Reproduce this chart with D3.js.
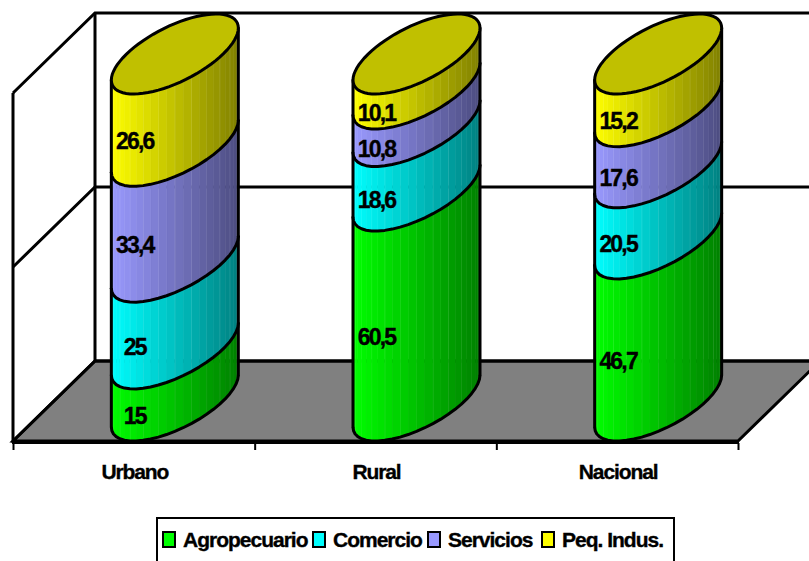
<!DOCTYPE html>
<html lang="en">
<head>
<meta charset="utf-8"/>
<title>Urbano Rural Nacional</title>
<script src="https://d3js.org/d3.v7.min.js"></script>
<style>
	html, body { margin: 0; background: #fff; overflow: hidden; }
	svg { display: block; }
	text { font-family: "Liberation Sans", Arial, sans-serif; font-weight: bold; fill: #000; stroke: #000; stroke-width: 0.35px; }
	.axis .domain { display: none; }
	.axis line { stroke: #000; stroke-width: 2px; }
</style>
</head>
<body>
<svg id="chart" width="809" height="561"></svg>
<script>
// values
var categories = ["Urbano", "Rural", "Nacional"];
var seriesNames = ["Agropecuario", "Comercio", "Servicios", "Peq. Indus."];
var agropecuario = [15, 60.5, 46.7];
var comercio = [25, 18.6, 20.5];
var servicios = [33.4, 10.8, 17.6];
var peqIndus = [26.6, 10.1, 15.2];
var wallTicks = [0, 50, 100];

var lightColors = ["#00ff00", "#00ffff", "#9999ff", "#ffff00"];
var darkColors = ["#008000", "#008080", "#4d4d80", "#808000"];
var topColor = "#c0c000";

var rows = [agropecuario, comercio, servicios, peqIndus];
var table = categories.map(function(c, i) {
	var d = { category: c };
	seriesNames.forEach(function(s, j) { d[s] = rows[j][i]; });
	return d;
});
var stacked = d3.stack().keys(seriesNames)(table);

var svg = d3.select("#chart");

// 3d box: the back wall is the front plane moved by depth
var depthX = 82, depthY = -80;
var x = d3.scaleBand().domain(categories).range([13, 738]);
var wallY = d3.scaleLinear().domain([0, 100]).range([361, 13]);
// y of the cylinder axis (center of the ellipses)
var y = d3.scaleLinear().domain([0, 100]).range([401, 54]);

var radiusX = 63.5, skew = 26, radiusY = 30.4;
var lineWidth = 3;

function ellipsePoint(cx, v, t) {
	return [cx + radiusX * Math.cos(t), y(v) - skew * Math.cos(t) + radiusY * Math.sin(t)];
}
function center(c) { return x(c) + x.bandwidth() / 2 + depthX / 2; }

var line = d3.line();

// floor
var x0 = x.range()[0], x1 = x.range()[1];
svg.append("path")
	.attr("d", line([[x0, wallY(0) - depthY], [x0 + depthX, wallY(0)], [x1 + depthX, wallY(0)], [x1, wallY(0) - depthY]]) + "Z")
	.attr("fill", "#808080")
	.attr("stroke", "#000")
	.attr("stroke-width", lineWidth);

// walls
var walls = svg.append("g").attr("fill", "none").attr("stroke", "#000").attr("stroke-width", lineWidth);
wallTicks.forEach(function(v) {
	walls.append("path").attr("d", line([[x0, wallY(v) - depthY], [x0 + depthX, wallY(v)], [x1 + depthX, wallY(v)]]));
});
walls.append("path").attr("d", line([[x0, wallY(100) - depthY], [x0, wallY(0) - depthY + 2]]));
walls.append("path").attr("d", line([[x0 + depthX, wallY(100)], [x0 + depthX, wallY(0)]]));

// x axis, ticks on the band edges
var edgeScale = d3.scaleLinear().domain([0, categories.length]).range(x.range());
var axis = svg.append("g")
	.attr("class", "axis")
	.attr("transform", "translate(0,443)")
	.call(d3.axisBottom(edgeScale).tickValues(d3.range(categories.length + 1)).tickSize(7).tickFormat(""));
axis.append("line").attr("x1", x0 - 1).attr("x2", x1 + 1).attr("y1", 0).attr("y2", 0);

svg.append("g").selectAll("text")
	.data(categories)
	.enter().append("text")
	.attr("x", function(d) { return x(d) + x.bandwidth() / 2 + 1; })
	.attr("y", 479)
	.attr("text-anchor", "middle")
	.attr("font-size", 21)
	.attr("letter-spacing", -1.1)
	.text(function(d) { return d; });

// cylinders
var steps = d3.range(0, 25).map(function(i) { return Math.PI * i / 24; });

stacked.forEach(function(layer, j) {
	var g = svg.append("g");
	var shade = d3.interpolateRgb(lightColors[j], darkColors[j]);
	layer.forEach(function(d) {
		var cx = center(d.data.category);
		// side facets, right to left
		steps.slice(1).forEach(function(t, k) {
			var t0 = steps[k];
			var c = shade(0.5 + 0.5 * Math.cos((t + t0) / 2));
			g.append("path")
				.attr("d", line([ellipsePoint(cx, d[0], t0), ellipsePoint(cx, d[0], t), ellipsePoint(cx, d[1], t), ellipsePoint(cx, d[1], t0)]) + "Z")
				.attr("fill", c)
				.attr("stroke", c)
				.attr("stroke-width", 0.6);
			if (k % 2) {
				g.append("path")
					.attr("d", line([ellipsePoint(cx, d[0], t), ellipsePoint(cx, d[1], t)]))
					.attr("stroke", "#fff")
					.attr("stroke-opacity", 0.22)
					.attr("stroke-width", 1);
			}
		});
		// outline of the part
		var outline = steps.map(function(t) { return ellipsePoint(cx, d[0], t); });
		g.append("path")
			.attr("d", line(outline))
			.attr("fill", "none")
			.attr("stroke", "#000")
			.attr("stroke-width", lineWidth)
			.attr("stroke-linejoin", "round");
		[0, Math.PI].forEach(function(t) {
			g.append("path")
				.attr("d", line([ellipsePoint(cx, d[0], t), ellipsePoint(cx, d[1], t)]))
				.attr("stroke", "#000")
				.attr("stroke-width", lineWidth)
				.attr("stroke-linecap", "round");
		});
	});
});

// top ellipses
var around = d3.range(0, 73).map(function(i) { return Math.PI * i / 36; });
svg.append("g").selectAll("path")
	.data(categories)
	.enter().append("path")
	.attr("d", function(c) {
		return line(around.map(function(t) { return ellipsePoint(center(c), 100, t); })) + "Z";
	})
	.attr("fill", topColor)
	.attr("stroke", "#000")
	.attr("stroke-width", lineWidth);

// data labels sit on the front of the cylinder
var labels = svg.append("g");
stacked.forEach(function(layer, j) {
	layer.forEach(function(d, i) {
		labels.append("text")
			.attr("x", x(d.data.category) + x.bandwidth() / 2 + 1)
			.attr("y", y((d[0] + d[1]) / 2) + 41)
			.attr("dy", "0.35em")
			.attr("text-anchor", "middle")
			.attr("font-size", 23)
			.attr("letter-spacing", -1.8)
			.text(String(rows[j][i]).replace(".", ","));
	});
});

// legend
var legend = svg.append("g").attr("transform", "translate(157,518)");
legend.append("rect")
	.attr("width", 517)
	.attr("height", 46)
	.attr("fill", "#fff")
	.attr("stroke", "#000")
	.attr("stroke-width", 2);
var legendX = [6, 156, 271, 385];
var item = legend.selectAll("g")
	.data(seriesNames)
	.enter().append("g")
	.attr("transform", function(d, i) { return "translate(" + legendX[i] + ",0)"; });
item.append("rect")
	.attr("y", 14)
	.attr("width", 12)
	.attr("height", 15)
	.attr("fill", function(d, i) { return lightColors[i]; })
	.attr("stroke", "#000")
	.attr("stroke-width", 2);
item.append("text")
	.attr("x", 20)
	.attr("y", 29)
	.attr("font-size", 21)
	.attr("letter-spacing", -1)
	.text(function(d) { return d; });
</script>
</body>
</html>
